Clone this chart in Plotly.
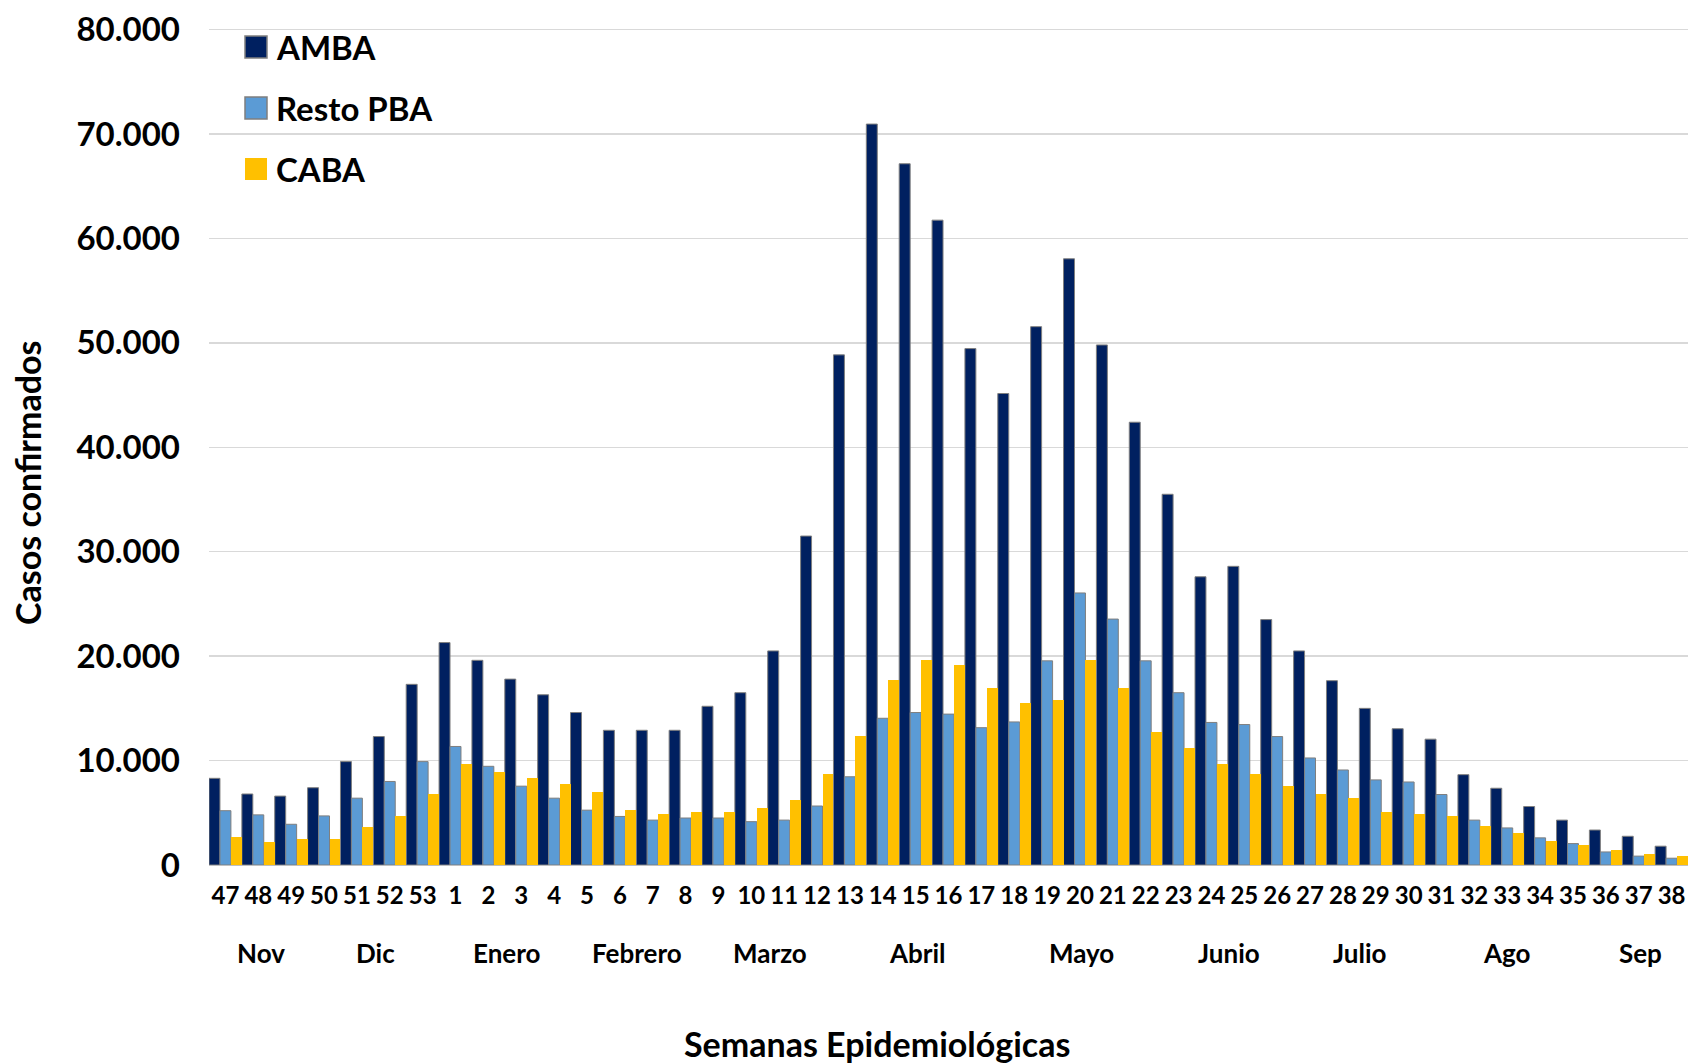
import plotly.graph_objects as go

weeks = ["47", "48", "49", "50", "51", "52", "53",
         "1", "2", "3", "4", "5", "6", "7", "8", "9", "10",
         "11", "12", "13", "14", "15", "16", "17", "18", "19", "20",
         "21", "22", "23", "24", "25", "26", "27", "28", "29", "30",
         "31", "32", "33", "34", "35", "36", "37", "38"]

amba = [8300, 6800, 6600, 7400, 9900, 12300, 17300,
        21300, 19600, 17800, 16300, 14600, 12900, 12900, 12900, 15200, 16500,
        20500, 31500, 48850, 70950, 67150, 61750, 49450, 45150, 51550, 58050,
        49800, 42400, 35500, 27600, 28600, 23500, 20500, 17650, 15000, 13050,
        12050, 8650, 7350, 5600, 4300, 3350, 2750, 1800]

resto_pba = [5200, 4800, 3900, 4700, 6400, 8000, 9900,
             11350, 9450, 7550, 6400, 5250, 4650, 4300, 4500, 4500, 4150,
             4300, 5650, 8450, 14050, 14600, 14450, 13150, 13700, 19550, 26050,
             23550, 19550, 16500, 13650, 13450, 12300, 10250, 9100, 8150, 7950,
             6750, 4300, 3550, 2600, 2050, 1250, 850, 650]

caba = [2650, 2250, 2450, 2450, 3600, 4700, 6800,
        9700, 8900, 8300, 7800, 7000, 5300, 4900, 5100, 5100, 5500,
        6250, 8750, 12350, 17700, 19600, 19200, 16950, 15550, 15800, 19600,
        16950, 12750, 11200, 9700, 8750, 7600, 6800, 6450, 5100, 4900,
        4700, 3700, 3050, 2300, 1900, 1450, 1050, 850]

series_names = ["AMBA", "Resto PBA", "CABA"]
series_colors = ["#002060", "#5B9BD5", "#FFC000"]
series_values = [amba, resto_pba, caba]
series_border = [1, 1, 0]

months = ["Nov", "Dic", "Enero", "Febrero", "Marzo", "Abril", "Mayo",
          "Junio", "Julio", "Ago", "Sep"]
# label centre, expressed as position along the week axis (category index)
month_pos = [1.08, 4.56, 8.56, 12.52, 16.56, 21.05, 26.06, 30.52, 34.52, 38.98, 43.04]

FONT = "Lato"
W, H = 1688, 1064
ML, MR, MT = 209, 0, 28
MB = H - 865
PW, PH = W - ML - MR, H - MT - MB


def px(x):
    return (x - ML) / PW


def py(y):
    return (H - MB - y) / PH


fig = go.Figure()
for name, col, vals, bw in zip(series_names, series_colors, series_values, series_border):
    fig.add_trace(go.Bar(
        x=weeks, y=vals, name=name, showlegend=False, hoverinfo="skip",
        marker=dict(color=col, line=dict(color="#7F7F7F", width=bw)),
    ))

shapes = []
annotations = []
legend_y = [47, 108, 169]
for name, col, ly, bw in zip(series_names, series_colors, legend_y, series_border):
    shapes.append(dict(type="rect", xref="paper", yref="paper",
                       x0=px(245), x1=px(267), y0=py(ly - 11), y1=py(ly + 11),
                       fillcolor=col,
                       line=dict(color="#7F7F7F", width=1.5 if bw else 0)))
    annotations.append(dict(text=name, xref="paper", yref="paper",
                            x=px(274), y=py(ly), xanchor="left", yanchor="middle",
                            showarrow=False,
                            font=dict(family=FONT, size=33, color="black", weight="bold")))

# white strip left of the plot area (hides a stray vertical edge line)
shapes.append(dict(type="rect", xref="paper", yref="paper", layer="above",
                   x0=px(200), x1=px(208.6), y0=py(868), y1=py(10),
                   fillcolor="white", line=dict(width=0)))

for m, pos in zip(months, month_pos):
    annotations.append(dict(text=m, xref="x", yref="paper", x=pos, y=py(953),
                            xanchor="center", yanchor="middle", showarrow=False,
                            font=dict(family=FONT, size=26, color="black", weight="bold")))

annotations.append(dict(text="Semanas Epidemiológicas", xref="paper", yref="paper",
                        x=px(877), y=py(1043), xanchor="center", yanchor="middle",
                        showarrow=False,
                        font=dict(family=FONT, size=34, color="black", weight="bold")))
annotations.append(dict(text="Casos confirmados", xref="paper", yref="paper",
                        x=px(27), y=py(483), xanchor="center", yanchor="middle",
                        textangle=-90, showarrow=False,
                        font=dict(family=FONT, size=34, color="black", weight="bold")))

fig.update_layout(
    template="none",
    width=W, height=H,
    margin=dict(l=ML, r=MR, t=MT, b=MB, pad=0),
    paper_bgcolor="white", plot_bgcolor="white",
    barmode="group", bargap=0, bargroupgap=0,
    separators=",.", hovermode=False, dragmode=False,
    shapes=shapes, annotations=annotations,
    xaxis=dict(type="category", showgrid=False, showline=False, zeroline=False,
               showspikes=False, ticks="", mirror=False,
               ticklabelstandoff=14, ticklabeloverflow="allow",
               tickfont=dict(family=FONT, size=24, color="black", weight="bold")),
    yaxis=dict(range=[0, 80150], tick0=0, dtick=10000, tickformat=",d",
               showgrid=True, gridcolor="#D9D9D9", gridwidth=1.5,
               zeroline=True, zerolinecolor="#BFBFBF", zerolinewidth=1.5,
               showline=False, mirror=False, showspikes=False, ticks="",
               ticklabelstandoff=28, ticklabeloverflow="allow",
               tickfont=dict(family=FONT, size=33, color="black", weight="bold")),
)

fig.write_html(
    "out.html",
    config={"displayModeBar": False, "staticPlot": True},
    post_script="document.body.style.margin='0';document.body.style.overflow='hidden';",
)
